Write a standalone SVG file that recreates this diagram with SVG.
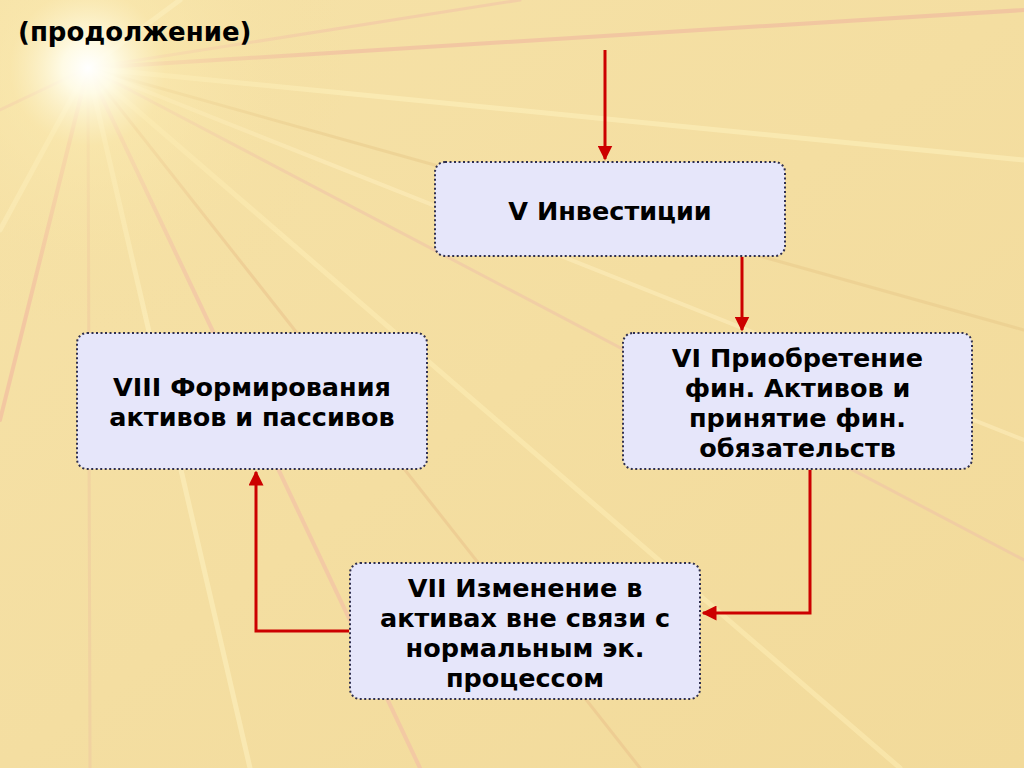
<svg xmlns="http://www.w3.org/2000/svg" width="1024" height="768" viewBox="0 0 1024 768">
<defs>
<radialGradient id="glow" cx="88" cy="68" r="260" gradientUnits="userSpaceOnUse">
<stop offset="0" stop-color="#ffffff" stop-opacity="1"/>
<stop offset="0.1" stop-color="#fffce8" stop-opacity="0.95"/>
<stop offset="0.3" stop-color="#fbeab0" stop-opacity="0.5"/>
<stop offset="1" stop-color="#f3dc9c" stop-opacity="0"/>
</radialGradient>
<linearGradient id="bg" x1="0" y1="0" x2="1" y2="1">
<stop offset="0" stop-color="#f6e2a8"/>
<stop offset="1" stop-color="#f2da9a"/>
</linearGradient>
<marker id="ah" viewBox="0 0 10 10" refX="9" refY="5" markerWidth="5" markerHeight="5" orient="auto" markerUnits="strokeWidth">
<path d="M0,0 L10,5 L0,10 z" fill="#cc0000"/>
</marker>
</defs>
<style>
.box{fill:#e6e6fa;stroke:#2f2f4f;stroke-width:2;stroke-dasharray:2 2.5}
.t{font-family:"DejaVu Sans",Verdana,sans-serif;font-weight:bold;font-size:25.5px;fill:#000;text-anchor:middle}
.title{font-family:"DejaVu Sans",Verdana,sans-serif;font-weight:bold;font-size:26px;fill:#000}
.c{fill:none;stroke:#cc0000;stroke-width:3}
.ray{stroke-linecap:round}
</style>
<rect width="1024" height="768" fill="url(#bg)"/>
<g id="rays" opacity="0.5">
<line class="ray" x1="88" y1="68" x2="1024" y2="10" stroke="#f0b0a0" stroke-width="4"/>
<line class="ray" x1="88" y1="68" x2="1024" y2="160" stroke="#fff4c0" stroke-width="5"/>
<line class="ray" x1="88" y1="68" x2="1024" y2="330" stroke="#e9c98a" stroke-width="3"/>
<line class="ray" x1="88" y1="68" x2="1024" y2="560" stroke="#f0c0a8" stroke-width="3"/>
<line class="ray" x1="88" y1="68" x2="900" y2="768" stroke="#fff0b8" stroke-width="5"/>
<line class="ray" x1="88" y1="68" x2="640" y2="768" stroke="#eac08a" stroke-width="3"/>
<line class="ray" x1="88" y1="68" x2="420" y2="768" stroke="#f3b8a8" stroke-width="4"/>
<line class="ray" x1="88" y1="68" x2="250" y2="768" stroke="#fff4c4" stroke-width="5"/>
<line class="ray" x1="88" y1="68" x2="90" y2="768" stroke="#f0c8a0" stroke-width="3"/>
<line class="ray" x1="88" y1="68" x2="0" y2="420" stroke="#f3b0a0" stroke-width="4"/>
<line class="ray" x1="88" y1="68" x2="0" y2="230" stroke="#fff4c4" stroke-width="5"/>
<line class="ray" x1="88" y1="68" x2="0" y2="110" stroke="#f0b8a8" stroke-width="3"/>
<line class="ray" x1="88" y1="68" x2="180" y2="0" stroke="#fff8d0" stroke-width="5"/>
<line class="ray" x1="88" y1="68" x2="520" y2="0" stroke="#f3c0a8" stroke-width="3"/>
<line class="ray" x1="88" y1="68" x2="1024" y2="440" stroke="#fff0c0" stroke-width="4"/>
</g>
<rect width="1024" height="768" fill="url(#glow)"/>
<text class="title" x="18" y="41">(продолжение)</text>
<g id="connectors">
<line class="c" x1="605" y1="50" x2="605" y2="159" marker-end="url(#ah)"/>
<line class="c" x1="742" y1="257" x2="742" y2="330" marker-end="url(#ah)"/>
<polyline class="c" points="810,470 810,613 703,613" marker-end="url(#ah)"/>
<polyline class="c" points="349,631 256,631 256,472" marker-end="url(#ah)"/>
</g>
<g id="node-v">
<rect class="box" x="435" y="162" width="350" height="94" rx="10"/>
<text class="t" x="610" y="220">V Инвестиции</text>
</g>
<g id="node-vi">
<rect class="box" x="623" y="333" width="349" height="136" rx="10"/>
<text class="t" x="797.5" y="367">VI Приобретение</text>
<text class="t" x="797.5" y="397">фин. Активов и</text>
<text class="t" x="797.5" y="427">принятие фин.</text>
<text class="t" x="797.5" y="457">обязательств</text>
</g>
<g id="node-viii">
<rect class="box" x="77" y="333" width="350" height="136" rx="10"/>
<text class="t" x="252" y="396">VIII Формирования</text>
<text class="t" x="252" y="426">активов и пассивов</text>
</g>
<g id="node-vii">
<rect class="box" x="350" y="563" width="350" height="136" rx="10"/>
<text class="t" x="525" y="597">VII Изменение в</text>
<text class="t" x="525" y="627">активах вне связи с</text>
<text class="t" x="525" y="657">нормальным эк.</text>
<text class="t" x="525" y="687">процессом</text>
</g>
</svg>
